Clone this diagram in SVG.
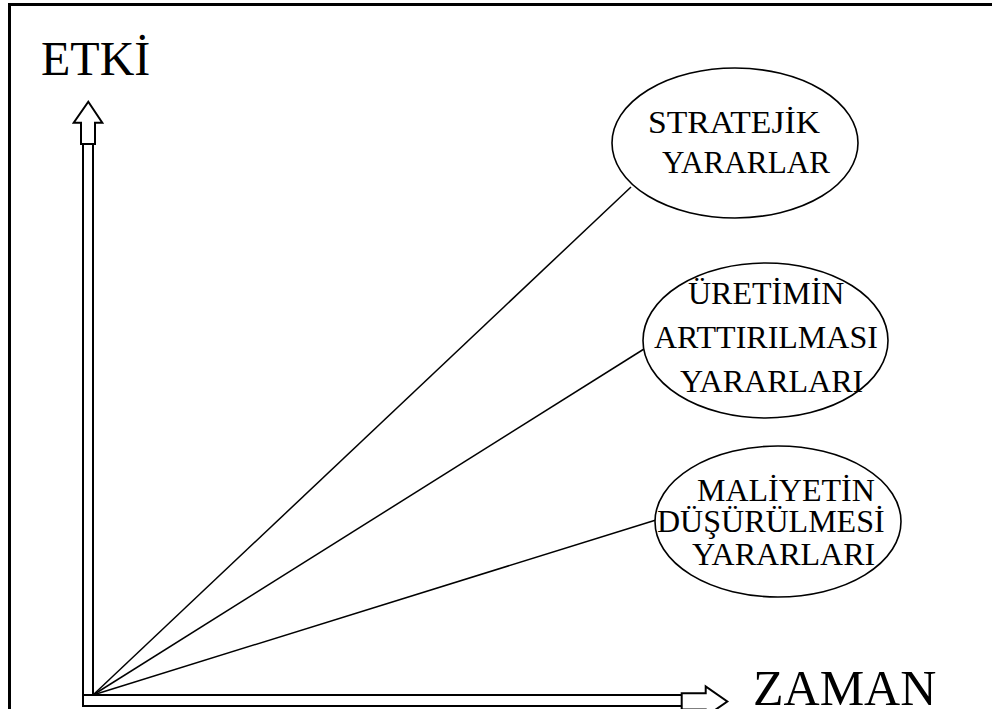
<svg xmlns="http://www.w3.org/2000/svg" width="992" height="709" viewBox="0 0 992 709">
<style>
.t{font-family:"Liberation Serif","Times New Roman",serif;fill:#000}
.n{font-size:32px}
.ax{fill:#fff;stroke:#000;stroke-width:2}
.el{fill:#fff;stroke:#000;stroke-width:1.6}
.c{stroke:#000;stroke-width:1.5;fill:none}
</style>
<rect width="992" height="709" fill="#fff"/>
<g id="frame">
<line x1="8" y1="4.5" x2="992" y2="4.5" stroke="#000" stroke-width="3"/>
<line x1="9.5" y1="3" x2="9.5" y2="709" stroke="#000" stroke-width="3"/>
</g>
<g id="connectors">
<line class="c" x1="93" y1="695" x2="631" y2="187"/>
<line class="c" x1="93" y1="695" x2="644" y2="349"/>
<line class="c" x1="93" y1="695" x2="656" y2="520"/>
</g>
<g id="axes">
<rect class="ax" x="83" y="144" width="10" height="562"/>
<polygon class="ax" points="88.3,101.7 102.3,122.7 95,122.7 95,144 81,144 81,122.7 73.7,122.7"/>
<rect class="ax" x="83" y="695" width="599" height="11"/>
<polygon class="ax" points="681.7,693.3 705.7,693.3 705.7,686.5 727.3,701.5 705.7,716.5 705.7,709.5 681.7,709.5"/>
<line x1="83" y1="695" x2="93" y2="695" stroke="#000" stroke-width="2"/>
<text class="t" x="41" y="75" font-size="48">ETKİ</text>
<text class="t" x="753" y="705" font-size="50">ZAMAN</text>
</g>
<g id="stratejik">
<ellipse class="el" cx="735" cy="143" rx="123" ry="75"/>
<text class="t n" x="648" y="133" textLength="172" lengthAdjust="spacingAndGlyphs">STRATEJİK</text>
<text class="t n" x="662" y="173" textLength="168" lengthAdjust="spacingAndGlyphs">YARARLAR</text>
</g>
<g id="uretimin">
<ellipse class="el" cx="765.5" cy="340.5" rx="122.5" ry="77.5"/>
<text class="t n" x="688" y="304">ÜRETİMİN</text>
<text class="t n" x="654" y="348">ARTTIRILMASI</text>
<text class="t n" x="680" y="392">YARARLARI</text>
</g>
<g id="maliyetin">
<ellipse class="el" cx="778" cy="521.5" rx="123" ry="75.5"/>
<text class="t n" x="697" y="501">MALİYETİN</text>
<text class="t n" x="657" y="532">DÜŞÜRÜLMESİ</text>
<text class="t n" x="692" y="565">YARARLARI</text>
</g>
</svg>
